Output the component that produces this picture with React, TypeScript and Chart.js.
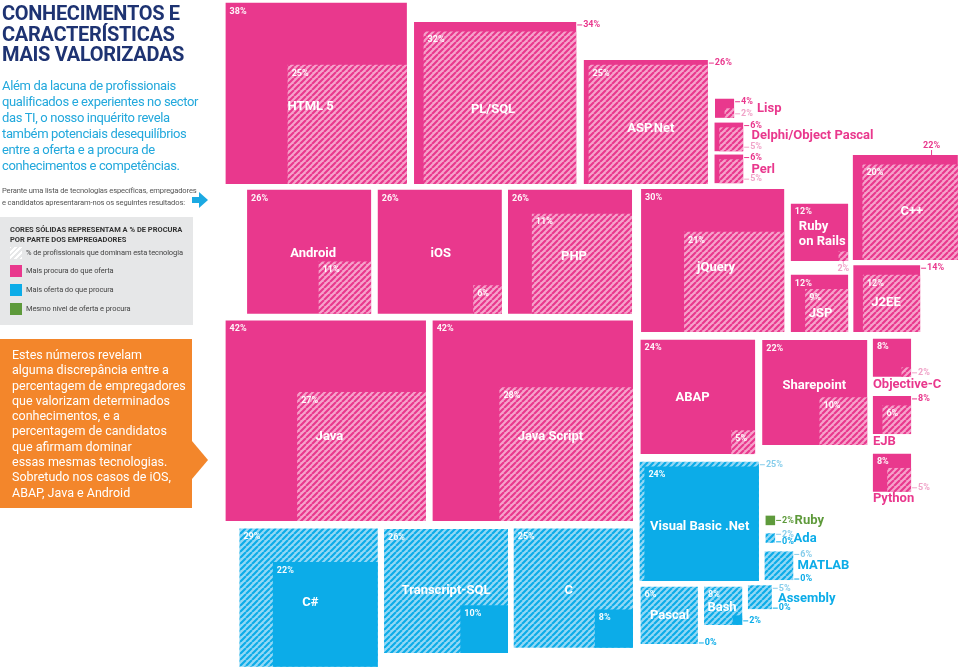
import React, { useEffect, useRef } from 'react';
import { Chart, registerables } from 'chart.js';

Chart.register(...registerables);

// ---------- DATA ----------
const technologies = [
  'HTML 5', 'PL/SQL', 'ASP.Net', 'Lisp', 'Delphi/Object Pascal', 'Perl', 'C++',
  'Android', 'iOS', 'PHP', 'jQuery', 'Ruby on Rails', 'JSP', 'J2EE',
  'Java', 'Java Script', 'ABAP', 'Sharepoint', 'Objective-C', 'EJB', 'Python',
  'C#', 'Transcript-SQL', 'C', 'Visual Basic .Net', 'Pascal', 'Bash', 'Assembly',
  'MATLAB', 'Ada', 'Ruby',
];
// % de procura por parte dos empregadores (cores sólidas)
const procura = [38, 34, 26, 4, 6, 6, 22, 26, 26, 26, 30, 12, 12, 14, 42, 42, 24, 22, 8, 8, 8, 22, 10, 8, 24, 0, 2, 0, 0, 0, 2];
// % de profissionais que dominam a tecnologia (tracejado)
const dominam = [25, 32, 25, 2, 5, 5, 20, 11, 6, 21, 21, 2, 9, 12, 27, 28, 5, 10, 2, 6, 5, 29, 26, 25, 25, 12, 8, 5, 6, 2, 2];
// texto impresso quando difere do tamanho desenhado
const printedDominam: Record<string, string> = { 'PHP': '11%', 'Pascal': '6%' };

// ---------- LAYOUT (anchor = bottom-right corner, in percentage-point units) ----------
type Mode = 'in' | 'rt' | 'rb' | 'rm' | 'up' | 'dn' | null;
type Lay = { r: number; b: number; pl: Mode; dl: Mode; n: [number, number, CanvasTextAlign, boolean]; wrap?: number };
const layout: Lay[] = [
  { r: 85.3, b: 38.6, pl: 'in', dl: 'in', n: [62, 104, 'left', false] },
  { r: 120.8, b: 38.6, pl: 'rt', dl: 'in', n: [79, 88, 'center', false] },
  { r: 148.4, b: 38.6, pl: 'rt', dl: 'in', n: [67, 69, 'center', false] },
  { r: 153.9, b: 24.7, pl: 'rt', dl: 'rb', n: [42, 10, 'left', true] },
  { r: 155.8, b: 31.7, pl: 'rt', dl: 'rb', n: [37, 13, 'left', true] },
  { r: 155.8, b: 38.4, pl: 'rt', dl: 'rb', n: [37, 15, 'left', true] },
  { r: 200.8, b: 54.5, pl: 'up', dl: 'in', n: [59, 57, 'center', false] },
  { r: 77.8, b: 65.8, pl: 'in', dl: 'in', n: [66, 64, 'center', false] },
  { r: 105.2, b: 65.8, pl: 'in', dl: 'in', n: [63, 64, 'center', false] },
  { r: 132.5, b: 65.8, pl: 'in', dl: 'in', n: [66, 67, 'center', false] },
  { r: 164.4, b: 69.6, pl: 'in', dl: 'in', n: [56, 79, 'left', false] },
  { r: 177.8, b: 54.7, pl: 'in', dl: 'dn', n: [8, 23, 'left', false], wrap: 4 },
  { r: 177.8, b: 69.6, pl: 'in', dl: 'in', n: [18, 39, 'left', false] },
  { r: 192.9, b: 69.6, pl: 'rt', dl: 'in', n: [18, 38, 'left', false] },
  { r: 89.3, b: 109.2, pl: 'in', dl: 'in', n: [90, 116, 'left', false] },
  { r: 132.7, b: 109.2, pl: 'in', dl: 'in', n: [85, 116, 'left', false] },
  { r: 158.3, b: 95.2, pl: 'in', dl: 'in', n: [52, 58, 'center', false] },
  { r: 181.8, b: 93.3, pl: 'in', dl: 'in', n: [52, 46, 'center', false] },
  { r: 191.0, b: 79.0, pl: 'in', dl: 'rb', n: [0, 46, 'left', true] },
  { r: 191.0, b: 91.0, pl: 'rt', dl: 'in', n: [0, 46, 'left', true] },
  { r: 191.0, b: 103.1, pl: 'in', dl: 'rb', n: [0, 45, 'left', true] },
  { r: 79.2, b: 139.8, pl: 'in', dl: 'in', n: [71, 74, 'center', false] },
  { r: 106.5, b: 136.9, pl: 'in', dl: 'in', n: [62, 62, 'center', false] },
  { r: 132.7, b: 135.8, pl: 'in', dl: 'in', n: [55, 62, 'center', false] },
  { r: 159.1, b: 121.8, pl: 'in', dl: 'rt', n: [60, 65, 'center', false] },
  { r: 146.3, b: 135.0, pl: 'rb', dl: 'in', n: [29, 29, 'center', false] },
  { r: 155.6, b: 131.0, pl: 'rb', dl: 'in', n: [18, 21, 'center', false] },
  { r: 161.8, b: 127.7, pl: 'rb', dl: 'rt', n: [30, 13, 'left', true] },
  { r: 166.3, b: 121.6, pl: 'rb', dl: 'rt', n: [33, 14, 'left', true] },
  { r: 162.5, b: 113.8, pl: 'rb', dl: 'rt', n: [28, 5, 'left', true] },
  { r: 162.5, b: 110.1, pl: 'rm', dl: null, n: [29, 5, 'left', true] },
];

const X_MAX = 201.26;
const Y_MAX = 140.04;

const PINK = '#E9388D';
const PINK_LIGHT = '#F6A2CB';
const PINK_TEXT_LIGHT = '#F0A3C8';
const BLUE = '#0CACE8';
const BLUE_LIGHT = '#93D8F5';
const BLUE_TEXT_LIGHT = '#86CDEB';
const GREEN = '#5E9A3B';
const FONT = 'Roboto, "Open Sans", sans-serif';

type Kind = 'pink' | 'blue' | 'green';
const kindOf = (i: number): Kind => (procura[i] > dominam[i] ? 'pink' : procura[i] < dominam[i] ? 'blue' : 'green');
const baseColor = (k: Kind) => (k === 'pink' ? PINK : k === 'blue' ? BLUE : GREEN);

function stripes(bg: string, fg: string, s = 6): CanvasPattern {
  const c = document.createElement('canvas');
  c.width = s;
  c.height = s;
  const g = c.getContext('2d')!;
  g.fillStyle = bg;
  g.fillRect(0, 0, s, s);
  g.strokeStyle = fg;
  g.lineWidth = s / Math.SQRT2 / 2;
  g.beginPath();
  for (const k of [-1, 0, 1]) {
    g.moveTo(k * s, s);
    g.lineTo(k * s + s, 0);
  }
  g.stroke();
  return g.createPattern(c, 'repeat')!;
}

function points(kind: Kind, values: number[]) {
  const out: { x: number; y: number; v: number }[] = [];
  technologies.forEach((_, i) => {
    if (kindOf(i) !== kind) return;
    const v = values[i];
    out.push({ x: layout[i].r - v / 2, y: layout[i].b - v / 2, v });
  });
  return out;
}

const labelPlugin = {
  id: 'squareLabels',
  afterDatasetsDraw(chart: any) {
    const { ctx } = chart;
    const xs = chart.scales.x;
    const ys = chart.scales.y;
    ctx.save();
    technologies.forEach((name, i) => {
      const L = layout[i];
      const kind = kindOf(i);
      const p = procura[i];
      const d = dominam[i];
      const R = xs.getPixelForValue(L.r);
      const B = ys.getPixelForValue(L.b);
      const side = (v: number) => R - xs.getPixelForValue(L.r - v);
      const S = side(Math.max(p, d));
      const left = R - S;
      const top = B - S;
      const items = [
        { v: p, mode: L.pl, solid: true, text: p + '%' },
        { v: d, mode: L.dl, solid: kind === 'green', text: printedDominam[name] ?? d + '%' },
      ];
      ctx.font = `bold 9px ${FONT}`;
      ctx.lineWidth = 1;
      items.forEach((it) => {
        if (!it.mode) return;
        const s = side(it.v);
        const l = R - s;
        const t = B - s;
        const outColor = it.solid ? baseColor(kind) : kind === 'pink' ? PINK_TEXT_LIGHT : BLUE_TEXT_LIGHT;
        if (it.mode === 'in') {
          ctx.fillStyle = 'rgba(255,255,255,0.95)';
          ctx.textAlign = 'left';
          ctx.textBaseline = 'top';
          ctx.fillText(it.text, l + 4, t + 4);
          return;
        }
        ctx.fillStyle = outColor;
        ctx.strokeStyle = outColor;
        if (it.mode === 'up' || it.mode === 'dn') {
          const cx = it.mode === 'up' ? l + s * 0.75 : l + s / 2;
          ctx.textAlign = 'center';
          ctx.beginPath();
          if (it.mode === 'up') {
            ctx.moveTo(cx, t - 5);
            ctx.lineTo(cx, t);
            ctx.stroke();
            ctx.textBaseline = 'bottom';
            ctx.fillText(it.text, cx, t - 5);
          } else {
            ctx.moveTo(cx, B);
            ctx.lineTo(cx, B + 3);
            ctx.stroke();
            ctx.textBaseline = 'top';
            ctx.fillText(it.text, cx, B + 3);
          }
          return;
        }
        let yy: number;
        if (it.mode === 'rt') yy = s < 12 ? t + 1 : t + 3;
        else if (it.mode === 'rb') yy = it.v === 0 ? B - 1 : B - 4;
        else yy = (t + B) / 2;
        ctx.beginPath();
        ctx.moveTo(R + 1, yy);
        ctx.lineTo(R + 6, yy);
        ctx.stroke();
        ctx.textAlign = 'left';
        ctx.textBaseline = 'middle';
        ctx.fillText(it.text, R + 7, yy);
      });
      // name
      const [dx, dy, align, outside] = L.n;
      ctx.font = `bold 13px ${FONT}`;
      ctx.fillStyle = outside ? baseColor(kind) : '#ffffff';
      ctx.textAlign = align;
      ctx.textBaseline = 'middle';
      const lines = L.wrap ? [name.slice(0, L.wrap), name.slice(L.wrap + 1)] : [name];
      lines.forEach((ln, k) => ctx.fillText(ln, left + dx, top + dy + k * 15));
    });
    ctx.restore();
  },
};

export default function App() {
  const ref = useRef<HTMLCanvasElement>(null);
  useEffect(() => {
    const canvas = ref.current!;
    const pinkHatch = stripes(PINK_LIGHT, PINK);
    const blueHatch = stripes(BLUE_LIGHT, BLUE);
    const radius = (ctx: any) => {
      const xs = ctx.chart.scales.x;
      const v = ctx.raw ? ctx.raw.v : 0;
      const px = xs.getPixelForValue(v) - xs.getPixelForValue(0);
      return px / Math.SQRT2;
    };
    const common = {
      pointStyle: 'rect',
      pointRadius: radius,
      pointHoverRadius: radius,
      pointBorderWidth: 0,
      showLine: false,
      clip: false as const,
    };
    const chart = new Chart(canvas, {
      type: 'scatter',
      data: {
        datasets: [
          { label: '% de profissionais que dominam (mais procura do que oferta)', data: points('pink', dominam), backgroundColor: pinkHatch, order: 0, ...common },
          { label: '% de procura (mais procura do que oferta)', data: points('pink', procura), backgroundColor: PINK, order: 1, ...common },
          { label: '% de procura (mais oferta do que procura)', data: points('blue', procura), backgroundColor: BLUE, order: 0, ...common },
          { label: '% de profissionais que dominam (mais oferta do que procura)', data: points('blue', dominam), backgroundColor: blueHatch, order: 1, ...common },
          { label: 'Mesmo nível de oferta e procura', data: points('green', procura), backgroundColor: GREEN, order: 0, ...common },
        ] as any,
      },
      options: {
        animation: false,
        responsive: false,
        events: [],
        layout: { padding: 0 },
        scales: {
          x: { type: 'linear', min: 0, max: X_MAX, display: false },
          y: { type: 'linear', min: 0, max: Y_MAX, reverse: true, display: false },
        },
        plugins: { legend: { display: false }, tooltip: { enabled: false } },
      },
      plugins: [labelPlugin],
    });
    return () => chart.destroy();
  }, []);

  const sw = (bg: string) => ({ position: 'absolute' as const, left: 10, width: 12, height: 12, background: bg });
  const legText = { position: 'absolute' as const, left: 26, fontSize: 7.5, color: '#444', whiteSpace: 'nowrap' as const, letterSpacing: -0.1 };

  return (
    <div style={{ position: 'fixed', left: 0, top: 0, width: 960, height: 668, background: '#fff', overflow: 'hidden', fontFamily: FONT }}>
      <canvas ref={ref} width={960} height={668} style={{ position: 'absolute', left: 0, top: 0, width: 960, height: 668 }} />
      <div style={{ position: 'absolute', left: 2, top: 3, color: '#1E3372', fontWeight: 700, fontSize: 20, lineHeight: '20.5px', letterSpacing: -0.3 }}>
        CONHECIMENTOS E<br />CARACTERÍSTICAS<br />MAIS VALORIZADAS
      </div>
      <div style={{ position: 'absolute', left: 2, top: 78, color: '#22A8DC', fontSize: 13, lineHeight: '16px', whiteSpace: 'nowrap', letterSpacing: -0.35 }}>
        Além da lacuna de profissionais<br />qualificados e experientes no sector<br />das TI, o nosso inquérito revela<br />também potenciais desequilíbrios<br />entre a oferta e a procura de<br />conhecimentos e competências.
      </div>
      <div style={{ position: 'absolute', left: 2, top: 185, color: '#555', fontSize: 7.6, lineHeight: '12px', whiteSpace: 'nowrap', letterSpacing: -0.15 }}>
        Perante uma lista de tecnologias específicas, empregadores<br />e candidatos apresentaram-nos os seguintes resultados:
      </div>
      <svg style={{ position: 'absolute', left: 192, top: 192 }} width={16} height={16} viewBox="0 0 16 16">
        <polygon points="0,5 7,5 7,0 16,8 7,16 7,11 0,11" fill="#1BA9E2" />
      </svg>
      <div style={{ position: 'absolute', left: 0, top: 217, width: 193, height: 108, background: '#E6E7E8' }}>
        <div style={{ position: 'absolute', left: 10, top: 8, fontSize: 7.5, fontWeight: 700, color: '#333', lineHeight: '10px', whiteSpace: 'nowrap' }}>
          CORES SÓLIDAS REPRESENTAM A % DE PROCURA<br />POR PARTE DOS EMPREGADORES
        </div>
        <div style={{ ...sw('repeating-linear-gradient(-45deg, #ffffff 0 2px, #E6E7E8 2px 4px)'), top: 30 }} />
        <div style={{ ...legText, top: 31 }}>% de profissionais que dominam esta tecnologia</div>
        <div style={{ ...sw(PINK), top: 48 }} />
        <div style={{ ...legText, top: 49 }}>Mais procura do que oferta</div>
        <div style={{ ...sw(BLUE), top: 67 }} />
        <div style={{ ...legText, top: 68 }}>Mais oferta do que procura</div>
        <div style={{ ...sw(GREEN), top: 86 }} />
        <div style={{ ...legText, top: 87 }}>Mesmo nível de oferta e procura</div>
      </div>
      <div style={{ position: 'absolute', left: 0, top: 339, width: 192, height: 169, background: '#F3862B' }}>
        <div style={{ position: 'absolute', left: 12, top: 8, color: '#fff', fontSize: 12.5, lineHeight: '15.3px', whiteSpace: 'nowrap' }}>
          Estes números revelam<br />alguma discrepância entre a<br />percentagem de empregadores<br />que valorizam determinados<br />conhecimentos, e a<br />percentagem de candidatos<br />que afirmam dominar<br />essas mesmas tecnologias.<br />Sobretudo nos casos de iOS,<br />ABAP, Java e Android
        </div>
      </div>
      <div style={{ position: 'absolute', left: 192, top: 441, width: 0, height: 0, borderTop: '19px solid transparent', borderBottom: '19px solid transparent', borderLeft: '16px solid #F3862B' }} />
    </div>
  );
}
